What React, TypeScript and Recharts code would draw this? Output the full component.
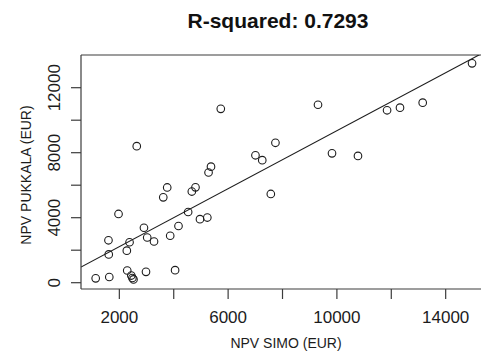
import { ScatterChart, Scatter, XAxis, YAxis, ReferenceLine, Label } from 'recharts';

// NPV per stand, SIMO vs Pukkala (EUR)
const simoNpv = [
  1130, 1630, 1600, 1610, 1970, 2275, 2290, 2375, 2440, 2480,
  2520, 2640, 2905, 3025, 2980, 3275, 3615, 3760, 3870, 4050,
  4175, 4530, 4665, 4800, 4965, 5235, 5280, 5370, 5730, 7005,
  7255, 7570, 7740, 9305, 9820, 10775, 11845, 12320, 13155, 14970,
];
const pukkalaNpv = [
  270, 350, 2610, 1740, 4230, 1970, 750, 2490, 440, 290,
  200, 8400, 3380, 2780, 670, 2535, 5255, 5860, 2890, 770,
  3490, 4350, 5610, 5870, 3910, 4010, 6780, 7140, 10700, 7840,
  7540, 5460, 8610, 10950, 7960, 7800, 10610, 10770, 11080, 13500,
];

const xTicks = [2000, 4000, 6000, 8000, 10000, 12000, 14000];
const xLabelled = [2000, 6000, 10000, 14000];
const yTicks = [0, 2000, 4000, 6000, 8000, 10000, 12000];
const yLabelled = [0, 4000, 8000, 12000];

// lm fit
const intercept = 433;
const slope = 0.892;
const rSquared = '0.7293';

const xDomain: [number, number] = [590, 15299];
const yDomain: [number, number] = [-388, 14012];

const data = simoNpv.map((x, i) => ({ x, y: pukkalaNpv[i] }));

const font = '"Liberation Sans", Arial, Helvetica, sans-serif';
const ink = '#1c1c1c';
const axisCol = '#3c3c3c';

function OpenCircle(props: any) {
  const { cx, cy } = props;
  return <circle cx={cx} cy={cy} r={3.8} fill="none" stroke={ink} strokeWidth={1.1} />;
}

function XTick(props: any) {
  const { x, y, payload } = props;
  if (!xLabelled.includes(payload.value)) return null;
  return (
    <text x={x} y={y} dy="0.71em" textAnchor="middle" fontSize={17} fontFamily={font} fill={ink}>
      {payload.value}
    </text>
  );
}

function YTick(props: any) {
  const { x, y, payload } = props;
  if (!yLabelled.includes(payload.value)) return null;
  return (
    <text
      x={x}
      y={y}
      transform={`rotate(-90, ${x}, ${y})`}
      textAnchor="middle"
      fontSize={17}
      fontFamily={font}
      fill={ink}
    >
      {payload.value}
    </text>
  );
}

export default function App() {
  return (
    <div style={{ position: 'absolute', left: 0, top: 0, width: 481, height: 353, background: '#fff' }}>
      <div
        style={{
          position: 'absolute',
          left: 78,
          top: 10,
          width: 400,
          textAlign: 'center',
          fontFamily: font,
          fontWeight: 'bold',
          fontSize: 21,
          lineHeight: '21px',
          color: '#111',
        }}
      >
        R-squared: {rSquared}
      </div>
      <ScatterChart width={481} height={353} margin={{ top: 55, right: 0, bottom: 0, left: 0 }}>
        <XAxis
          dataKey="x"
          type="number"
          domain={xDomain}
          allowDataOverflow
          ticks={xTicks}
          height={64}
          tickSize={10}
          tickMargin={12}
          tick={<XTick />}
          axisLine={{ stroke: axisCol, strokeWidth: 1.2 }}
          tickLine={{ stroke: axisCol, strokeWidth: 1.2 }}
        >
          <Label
            content={(p: any) => {
              const vb = p.viewBox;
              return (
                <text x={vb.x + vb.width / 2 + 5} y={vb.y + 58.5} textAnchor="middle" fontSize={14} fontFamily={font} fill={ink}>
                  NPV SIMO (EUR)
                </text>
              );
            }}
          />
        </XAxis>
        <YAxis
          dataKey="y"
          type="number"
          domain={yDomain}
          allowDataOverflow
          ticks={yTicks}
          width={81}
          tickSize={10}
          tickMargin={11}
          tick={<YTick />}
          axisLine={{ stroke: axisCol, strokeWidth: 1.2 }}
          tickLine={{ stroke: axisCol, strokeWidth: 1.2 }}
        >
          <Label
            content={(p: any) => {
              const vb = p.viewBox;
              const cx = vb.x + 31;
              const cy = vb.y + vb.height / 2 + 3;
              return (
                <text
                  x={cx}
                  y={cy}
                  transform={`rotate(-90, ${cx}, ${cy})`}
                  textAnchor="middle"
                  fontSize={14}
                  fontFamily={font}
                  fill={ink}
                >
                  NPV PUKKALA (EUR)
                </text>
              );
            }}
          />
        </YAxis>
        <ReferenceLine y={yDomain[1]} stroke={axisCol} strokeWidth={1.2} ifOverflow="visible" />
        <ReferenceLine
          segment={[
            { x: xDomain[0], y: intercept + slope * xDomain[0] },
            { x: xDomain[1], y: intercept + slope * xDomain[1] },
          ]}
          stroke={ink}
          strokeWidth={1.1}
          ifOverflow="hidden"
        />
        <Scatter data={data} shape={<OpenCircle />} isAnimationActive={false} />
      </ScatterChart>
    </div>
  );
}
